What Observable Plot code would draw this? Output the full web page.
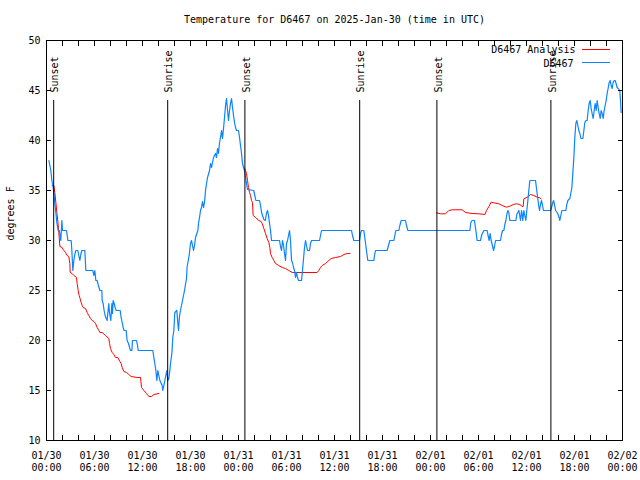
<!DOCTYPE html>
<html><head><meta charset="utf-8">
<script src="https://cdn.jsdelivr.net/npm/d3@7"></script>
<script src="https://cdn.jsdelivr.net/npm/@observablehq/plot@0.6"></script>
<style>html,body{margin:0;padding:0;background:#fff}svg{display:block}</style>
</head><body><div id="chart"></div>
<script>
const title = "Temperature for D6467 on 2025-Jan-30 (time in UTC)";
const yLabel = "degrees F";
const xTickHours = [0, 6, 12, 18, 24, 30, 36, 42, 48, 54, 60, 66, 72];
const xTickLabels = ["01/30\n00:00","01/30\n06:00","01/30\n12:00","01/30\n18:00","01/31\n00:00","01/31\n06:00","01/31\n12:00","01/31\n18:00","02/01\n00:00","02/01\n06:00","02/01\n12:00","02/01\n18:00","02/02\n00:00"];
const xMinorHours = [0,2,4,6,8,10,12,14,16,18,20,22,24,26,28,30,32,34,36,38,40,42,44,46,48,50,52,54,56,58,60,62,64,66,68,70,72];
const yTicks = [10, 15, 20, 25, 30, 35, 40, 45, 50];

// hours since 2025-01-30 00:00 UTC
const sunHours = [0.9, 15.15, 24.8, 39.15, 48.8, 63.05];
const sunLabels = ["Sunset", "Sunrise", "Sunset", "Sunrise", "Sunset", "Sunrise"];

const seriesNames = ["D6467 Analysis", "D6467"];

const obsHours = [0.3,0.42,0.54,0.67,0.8,0.92,1.04,1.17,1.29,1.46,1.6,1.79,1.92,2.0,2.5,2.67,3.08,3.17,3.29,3.42,3.54,3.67,3.92,4.04,4.17,4.29,4.42,4.79,4.92,5.79,5.92,6.04,6.17,6.33,6.42,6.67,6.92,6.96,7.08,7.2,7.33,7.46,7.58,7.7,7.79,7.87,8.04,8.17,8.25,8.33,8.46,8.58,8.71,9.21,9.33,9.46,9.58,9.71,9.96,10.08,10.25,10.38,10.5,10.67,10.75,11.25,11.38,11.46,13.29,13.42,13.54,13.67,13.79,13.92,14.04,14.17,14.29,14.46,14.54,14.67,14.79,14.92,15.04,15.17,15.29,15.42,15.5,15.67,15.79,15.92,16.04,16.29,16.42,16.5,16.63,16.75,17.0,17.25,17.5,17.58,17.83,18.0,18.13,18.25,18.38,18.5,18.63,18.92,19.0,19.13,19.25,19.38,19.5,19.63,19.75,19.88,20.0,20.13,20.38,20.5,20.63,20.75,20.88,21.0,21.13,21.25,21.38,21.5,21.63,21.75,21.88,22.0,22.13,22.25,22.38,22.5,22.63,22.75,22.88,23.0,23.13,23.25,23.38,23.5,23.63,23.75,24.0,24.13,24.25,24.38,24.5,24.63,24.75,24.88,25.0,25.13,25.9,26.04,26.17,26.5,26.63,26.75,26.88,27.0,27.17,27.35,27.5,27.63,27.75,27.88,28.0,28.13,29.13,29.25,29.38,29.5,29.63,29.75,29.88,30.0,30.13,30.25,30.38,30.5,30.63,30.75,30.88,31.0,31.13,31.25,31.38,31.5,31.88,32.0,32.13,32.25,32.38,32.5,32.63,32.88,33.0,33.13,34.13,34.25,34.38,38.13,38.25,38.42,39.13,39.25,39.38,39.67,39.8,39.92,40.04,40.17,40.92,41.0,41.13,42.58,42.75,42.92,43.42,43.54,43.67,44.04,44.17,44.33,44.88,45.0,45.17,52.92,53.04,53.2,53.5,53.58,53.67,53.83,54.25,54.42,54.67,55.08,55.17,55.33,55.46,55.58,55.71,55.88,56.0,56.13,56.75,56.88,57.0,57.17,57.29,57.42,57.54,57.67,57.79,57.92,58.67,58.79,59.04,59.13,59.25,59.38,59.46,59.54,59.67,59.79,59.92,60.04,60.17,60.29,60.42,61.13,61.25,61.38,61.5,61.63,61.75,61.88,62.0,62.13,63.0,63.13,63.25,63.38,63.5,63.63,63.83,64.0,64.17,64.29,64.42,64.92,65.04,65.17,65.42,65.54,65.67,65.79,65.92,66.04,66.17,66.29,66.42,66.54,66.67,66.79,67.04,67.17,67.29,67.42,67.58,67.71,67.83,67.96,68.08,68.2,68.33,68.46,68.58,68.71,68.83,68.96,69.08,69.21,69.33,69.46,69.58,69.71,69.83,69.96,70.08,70.2,70.33,70.46,70.58,70.71,70.83,70.96,71.08,71.2,71.33,71.46,71.66,71.75,71.83];
const obsTemps = [38,37.5,37,36,35.5,34.7,33.7,32.8,31.8,31,31,30,32,31,31,30,30,29,27,28,28.6,29,29,28.5,28,28.6,29,29,27,27,26.5,27,26,26,25.7,25,25,24,23.7,23,22.5,22.2,22,23,23.7,22.8,22,23.7,22.7,24,23.7,23.3,23,23,22.3,21.8,21.3,21,21,20,19.7,19.3,19,19,20,20,19.5,19,19,18.3,17.7,17,16,17,16.5,16,15.8,15.5,15,15.5,16,16.5,17,16,16.2,17,17.7,18.7,20.3,21,22.8,23,21.7,21,22.5,23,24,25,26.2,27.4,28.5,29.7,30,29.5,29,29.5,30.3,31,31.7,32.3,33,33.3,33.9,33.3,33.8,35,35.7,36.3,37,37.7,37.3,37.8,38.3,38.5,38.7,38.3,39.2,38.7,39.8,40.3,41,40.2,41.2,42.3,43.5,44.2,43,42,43,43.7,44.2,43.3,42.5,41.8,41.3,41,41,40.3,39.5,38.7,37.7,37.3,37,36.3,35.7,35.1,35,34.5,34,34,34,33.5,32.8,32.5,32.1,32,32.7,33,32.5,31.7,31,30,30,29.4,29,30,29.5,28.7,28,29.7,30,30.5,31,30,28,27.8,27.3,27,26.3,26.8,26.3,26,26,27,28.2,29.3,30,29.5,29,29,29.7,30,30,30.5,31,31,30.5,30,30,30.7,31,31,30.2,29.5,28.7,28,28,28.5,29,29,29.5,30,30,30.5,31,31,31.5,32,32,31.5,31,31,31.8,32,32,31.5,31,30,30,30.6,31,31,30.6,30,30.7,30,29.6,29,29.4,30,30,30.6,31,31,31.6,32,32.6,33,32.8,32,32,32.6,33,32.6,32,33,32.6,32,33,32.5,32,33,34,35,36,36,35.2,34.4,33.6,33,33.6,34,33.5,33,33,33.3,33.7,34,33.6,33,32.8,32.5,32,32.5,33,33,33.6,34,34.2,34.7,35.3,36.7,38.3,40.3,41.7,42,41.5,41,40.7,40.2,40.2,41,41.8,42,42,43,43.7,44,43.2,42.7,42.2,43,43.7,43,44,43.3,42.7,42.2,43,42.7,42.2,43,43.5,44,44.7,45.2,45.8,46,45.5,45.2,45.8,46,46,45.7,45.3,45.2,45,44,42.8];

const anaHours1 = [0.71,0.92,1.04,1.17,1.29,1.42,1.54,1.67,1.96,2.08,2.38,2.58,2.79,2.92,2.96,3.2,3.42,3.75,3.83,3.96,4.08,4.2,4.33,4.46,4.58,4.88,5.08,5.29,5.5,5.71,5.92,6.13,6.33,6.54,6.67,6.96,7.38,7.79,7.88,8.0,8.21,8.42,8.63,8.92,9.17,9.33,9.46,9.67,10.0,10.29,10.58,11.33,11.75,11.88,12.17,12.5,12.79,13.13,13.42,14.04];
const anaTemps1 = [35.5,35.5,34.8,33.8,32.8,31.9,30.8,29.4,29.3,29.1,28.8,28.5,28.4,27.7,26.8,26.7,26.5,26.3,25.7,25,24.5,24.2,23.8,23.5,23.3,23.2,22.8,22.5,22.2,22,21.9,21.7,21.3,21,20.8,20.8,20.5,20.2,19.7,19.2,18.8,18.6,18.3,18.3,17.9,17.7,17.3,16.9,16.8,16.6,16.4,16.3,16.3,15.3,15,14.7,14.4,14.4,14.6,14.7];
const anaHours2 = [24.67,24.8,24.88,25.0,25.13,25.25,25.38,25.5,25.63,25.75,25.83,26.13,26.54,26.83,26.96,27.17,27.38,27.58,27.79,27.92,28.0,28.21,28.42,28.63,29.04,29.46,29.88,30.29,30.71,33.83,34.04,34.25,34.46,34.88,35.29,35.58,36.13,36.75,37.17,37.58,37.92];
const anaTemps2 = [37.3,37.2,37.0,36.7,36.0,35.3,34.8,34.5,34.0,33.8,32.5,32.3,32.0,31.9,31.7,31.2,30.7,30.2,29.8,29.3,28.7,28.3,28.0,27.7,27.5,27.3,27.2,27.0,26.8,26.8,27.0,27.3,27.5,27.7,28.0,28.2,28.3,28.4,28.6,28.7,28.7];
const anaHours3 = [48.75,49.25,49.88,50.29,50.71,51.96,52.38,53.2,54.04,54.8,55.0,55.3,55.58,55.92,56.54,56.96,57.5,57.92,58.33,58.75,59.17,59.46,59.58,59.67,60.08,60.5,60.92,61.33,61.67,61.83];
const anaTemps3 = [32.77,32.67,32.67,33.0,33.07,33.07,32.8,32.7,32.67,32.6,33.0,33.4,33.83,33.77,33.67,33.5,33.33,33.43,33.6,33.67,33.6,33.4,33.4,34.17,34.33,34.6,34.5,34.33,34.27,34.17];

const RED = "#ff0000", BLUE = "#0a84ff";
const FONT = "'DejaVu Sans Mono', 'Liberation Mono', monospace";

const obs = obsHours.map((h, i) => ({h, t: obsTemps[i]}));
const ana = [
  ...anaHours1.map((h, i) => ({h, t: anaTemps1[i], seg: 1})),
  ...anaHours2.map((h, i) => ({h, t: anaTemps2[i], seg: 2})),
  ...anaHours3.map((h, i) => ({h, t: anaTemps3[i], seg: 3}))
];
const sun = sunHours.map((h, i) => ({h, label: sunLabels[i]}));

const plot = Plot.plot({
  width: 640, height: 480,
  marginLeft: 46, marginRight: 18, marginTop: 40, marginBottom: 40,
  style: {fontFamily: FONT, fontSize: "10px", background: "#fff", color: "#000"},
  x: {domain: [0, 72], label: null},
  y: {domain: [10, 50], label: null},
  marks: [
    Plot.line(ana, {x: "h", y: "t", z: "seg", stroke: RED, strokeWidth: 1}),
    Plot.line(obs, {x: "h", y: "t", stroke: BLUE, strokeWidth: 1.2}),
    Plot.ruleX(sun, {x: "h", insetTop: 60, stroke: "#000", strokeWidth: 1}),
    Plot.text(sun, {x: "h", text: "label", frameAnchor: "top", rotate: -90, textAnchor: "start", lineAnchor: "middle", dx: 1.5, dy: 52, fill: "#000"}),
    Plot.frame({stroke: "#000"}),
    Plot.axisX({ticks: xTickHours, tickFormat: d => xTickLabels[xTickHours.indexOf(d)], tickSize: 0, tickPadding: 10, lineHeight: 1.2, label: null}),
    Plot.axisX({ticks: xMinorHours, tickFormat: () => "", tickSize: 5, dy: -5, label: null}),
    Plot.axisX({anchor: "top", ticks: xMinorHours, tickFormat: () => "", tickSize: 5, dy: 5, label: null}),
    Plot.axisY({ticks: yTicks, tickSize: 0, tickPadding: 6, label: null}),
    Plot.axisY({ticks: yTicks, tickFormat: () => "", tickSize: 5, dx: 5, label: null}),
    Plot.axisY({anchor: "right", ticks: yTicks, tickFormat: () => "", tickSize: 5, dx: -5, label: null}),
    Plot.text([yLabel], {frameAnchor: "left", rotate: -90, dx: -36, fill: "#000"}),
    Plot.text([title], {frameAnchor: "top", lineAnchor: "middle", dy: -21, fill: "#000"}),
    Plot.text([seriesNames[0]], {frameAnchor: "top-right", textAnchor: "end", lineAnchor: "middle", dx: -47, dy: 9.5, fill: "#000"}),
    Plot.text([seriesNames[1]], {frameAnchor: "top-right", textAnchor: "end", lineAnchor: "middle", dx: -49, dy: 23, fill: "#000"})
  ]
});

// legend line samples
const svg = d3.select(plot);
[[RED, 49.5], [BLUE, 62.5]].forEach(([c, y]) => {
  svg.append("line").attr("x1", 582).attr("x2", 610).attr("y1", y).attr("y2", y)
    .attr("stroke", c).attr("stroke-width", 1);
});
document.getElementById("chart").appendChild(plot);
</script>
</body></html>
